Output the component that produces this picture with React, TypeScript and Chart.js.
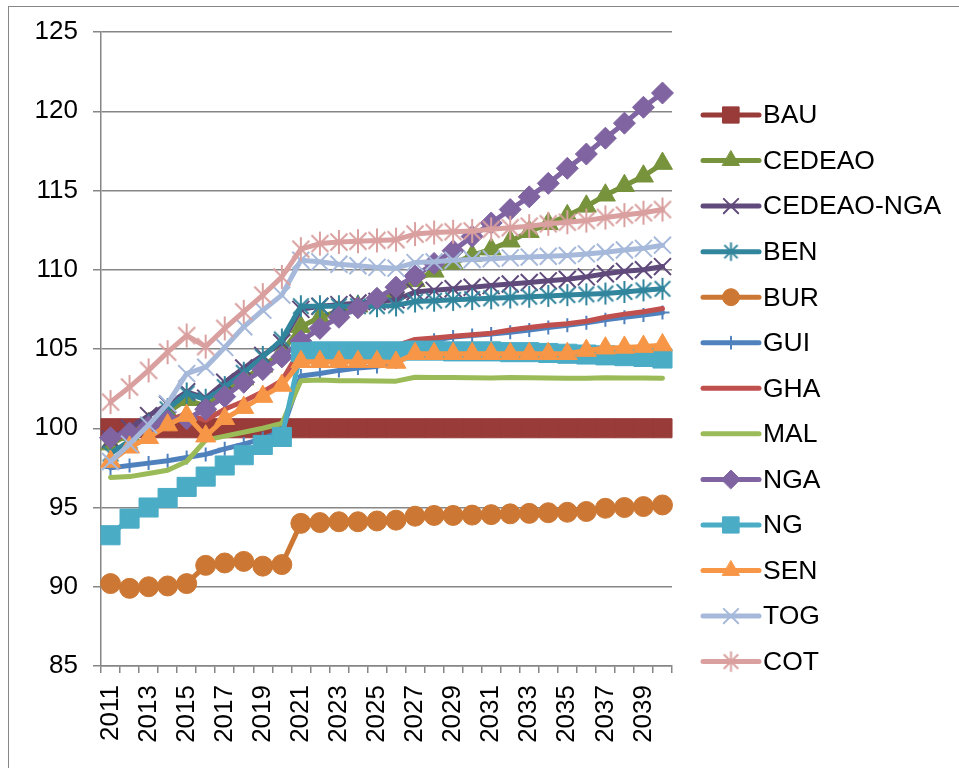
import React, { useEffect, useRef } from "react";
import { Chart, registerables } from "chart.js";
import { drawPoint } from "chart.js/helpers";

Chart.register(...registerables);

const years = [
  "2011", "2012", "2013", "2014", "2015", "2016", "2017", "2018", "2019", "2020",
  "2021", "2022", "2023", "2024", "2025", "2026", "2027", "2028", "2029", "2030",
  "2031", "2032", "2033", "2034", "2035", "2036", "2037", "2038", "2039", "2040",
];

const yTicks = [85, 90, 95, 100, 105, 110, 115, 120, 125];

const BAU = [
  100, 100, 100, 100, 100, 100, 100, 100, 100, 100,
  100, 100, 100, 100, 100, 100, 100, 100, 100, 100,
  100, 100, 100, 100, 100, 100, 100, 100, 100, 100,
];
const CEDEAO = [
  99.0, 99.6, 100.3, 101.0, 101.8, 101.4, 102.3, 103.1, 103.9, 104.8,
  106.4, 107.0, 107.4, 107.7, 108.1, 108.6, 109.3, 109.9, 110.4, 110.9,
  111.3, 111.8, 112.4, 112.9, 113.4, 114.0, 114.7, 115.3, 115.9, 116.7,
];
const CEDEAO_NGA = [
  99.3, 100.0, 100.8, 101.5, 102.3, 101.9, 102.9, 103.8, 104.6, 105.4,
  107.5, 107.7, 107.8, 107.9, 108.0, 108.1, 108.6, 108.7, 108.8, 108.9,
  109.0, 109.1, 109.2, 109.3, 109.4, 109.55, 109.75, 109.9, 110.0, 110.2,
];
const BEN = [
  98.4, 99.2, 100.2, 101.2, 102.2, 101.8, 102.6, 103.5, 104.5, 105.6,
  107.7, 107.7, 107.7, 107.7, 107.7, 107.75, 108.0, 108.05, 108.1, 108.15,
  108.2, 108.25, 108.3, 108.35, 108.4, 108.45, 108.5, 108.6, 108.7, 108.8,
];
const BUR = [
  90.2, 89.9, 90.0, 90.05, 90.2, 91.35, 91.5, 91.6, 91.3, 91.4,
  94.0, 94.05, 94.1, 94.1, 94.15, 94.2, 94.45, 94.5, 94.5, 94.52,
  94.55, 94.6, 94.63, 94.67, 94.7, 94.75, 94.95, 95.0, 95.06, 95.16,
];
const GUI = [
  97.5, 97.65, 97.8, 97.95, 98.15, 98.35, 98.7, 99.0, 99.35, 99.8,
  103.3, 103.45, 103.65, 103.8, 103.9, 104.2, 104.9, 105.55, 105.75, 105.85,
  105.95, 106.05, 106.2, 106.35, 106.5, 106.65, 106.85, 107.0, 107.15, 107.3,
];
const GHA = [
  99.3, 99.6, 100.0, 100.5, 100.9, 100.5, 101.2, 101.7, 102.3, 103.0,
  105.0, 105.05, 105.1, 105.1, 105.15, 105.2, 105.6, 105.7, 105.8, 105.9,
  106.0, 106.2, 106.35, 106.5, 106.6, 106.75, 107.0, 107.2, 107.35, 107.55,
];
const MAL = [
  96.9, 96.95, 97.15, 97.35, 97.9, 99.25, 99.5, 99.75, 100.0, 100.3,
  103.0, 103.05, 103.0, 103.0, 102.98, 102.97, 103.22, 103.2, 103.2, 103.18,
  103.17, 103.2, 103.18, 103.17, 103.15, 103.15, 103.18, 103.17, 103.17, 103.15,
];
const NGA = [
  99.4, 99.7, 100.1, 100.5, 100.6, 101.2, 102.0, 102.9, 103.7, 104.5,
  105.5, 106.3, 107.0, 107.6, 108.2, 108.9, 109.6, 110.4, 111.2, 112.1,
  112.95, 113.8, 114.6, 115.45, 116.4, 117.3, 118.3, 119.25, 120.25, 121.15,
];
const NG = [
  93.25, 94.3, 95.0, 95.6, 96.3, 96.95, 97.65, 98.3, 98.95, 99.45,
  104.8, 104.85, 104.85, 104.85, 104.85, 104.85, 104.9, 104.9, 104.85, 104.85,
  104.85, 104.8, 104.8, 104.75, 104.7, 104.65, 104.6, 104.55, 104.5, 104.4,
];
const SEN = [
  97.9, 98.8, 99.4, 100.2, 100.8, 99.5, 100.6, 101.3, 102.0, 102.7,
  104.2, 104.2, 104.2, 104.2, 104.2, 104.15, 104.7, 104.7, 104.7, 104.7,
  104.7, 104.7, 104.7, 104.7, 104.7, 104.9, 105.05, 105.1, 105.15, 105.25,
];
const TOG = [
  97.9, 99.0, 100.2, 101.55, 103.45, 103.85, 105.1, 106.4, 107.45, 108.4,
  110.6, 110.5, 110.35, 110.25, 110.15, 110.1, 110.45, 110.5, 110.6, 110.65,
  110.7, 110.75, 110.8, 110.85, 110.9, 111.0, 111.1, 111.25, 111.35, 111.55,
];
const COT = [
  101.65, 102.6, 103.65, 104.8, 105.85, 105.15, 106.3, 107.35, 108.4, 109.55,
  111.3, 111.65, 111.75, 111.8, 111.85, 111.9, 112.25, 112.35, 112.4, 112.45,
  112.55, 112.65, 112.75, 112.9, 113.0, 113.1, 113.3, 113.45, 113.6, 113.8,
];

const seriesNames = [
  "BAU", "CEDEAO", "CEDEAO-NGA", "BEN", "BUR", "GUI", "GHA",
  "MAL", "NGA", "NG", "SEN", "TOG", "COT",
];
const seriesValues = [BAU, CEDEAO, CEDEAO_NGA, BEN, BUR, GUI, GHA, MAL, NGA, NG, SEN, TOG, COT];
const seriesColors = [
  "#983B39", "#77933C", "#604A7B", "#31859C", "#CC7733", "#4F81BD", "#C0504D",
  "#9BBB59", "#8064A2", "#4BACC6", "#F79646", "#A6B9DA", "#D9A09F",
];
// marker style per series
const seriesMarkers = [
  "rect", "triangle", "crossRot", "star6", "circle", "cross", "none",
  "none", "rectRot", "rect", "triangle", "crossRot", "star6",
];
const seriesMarkerSizes = [13.5, 11.5, 12, 11, 10, 7, 0, 0, 11, 13.5, 11.5, 12, 12];

const FONT = "'Liberation Sans', Arial, sans-serif";

function makeStar(color: string, r: number, lw: number): HTMLCanvasElement {
  const size = Math.ceil(2 * r + lw + 2);
  const c = document.createElement("canvas");
  c.width = size;
  c.height = size;
  const ctx = c.getContext("2d")!;
  const cx = size / 2;
  const cy = size / 2;
  ctx.strokeStyle = color;
  ctx.lineWidth = lw;
  ctx.beginPath();
  ctx.moveTo(cx, cy - r);
  ctx.lineTo(cx, cy + r);
  const d = r * Math.SQRT1_2;
  ctx.moveTo(cx - d, cy - d);
  ctx.lineTo(cx + d, cy + d);
  ctx.moveTo(cx - d, cy + d);
  ctx.lineTo(cx + d, cy - d);
  ctx.stroke();
  return c;
}

export default function App() {
  const ref = useRef<HTMLCanvasElement | null>(null);

  useEffect(() => {
    if (!ref.current) return;

    const styles = seriesMarkers.map((m, i) => {
      if (m === "star6") return makeStar(seriesColors[i], seriesMarkerSizes[i], 2);
      if (m === "none") return false as any;
      return m as any;
    });
    const legendStyles = seriesMarkers.map((m, i) => {
      if (m === "star6") return makeStar(seriesColors[i], seriesMarkerSizes[i] * 0.85, 2);
      if (m === "none") return false as any;
      return m as any;
    });

    const datasets = seriesNames.map((name, i) => {
      const m = seriesMarkers[i];
      const isLineMarker = m === "cross" || m === "crossRot";
      return {
        label: name,
        data: seriesValues[i],
        borderColor: seriesColors[i],
        backgroundColor: seriesColors[i],
        pointBackgroundColor: seriesColors[i],
        pointBorderColor: seriesColors[i],
        borderWidth: 5,
        borderJoinStyle: "round" as const,
        borderCapStyle: "round" as const,
        tension: 0,
        pointStyle: styles[i],
        pointRadius: m === "none" ? 0 : seriesMarkerSizes[i],
        pointHoverRadius: m === "none" ? 0 : seriesMarkerSizes[i],
        pointBorderWidth: isLineMarker ? 2 : 1,
        order: -i,
        fill: false,
      };
    });

    const legendPlugin = {
      id: "excelLegend",
      afterDraw(chart: any) {
        const ctx = chart.ctx as CanvasRenderingContext2D;
        const x0 = 703;
        const x1 = 759;
        const xm = (x0 + x1) / 2;
        const yStart = 115;
        const step = 45.55;
        ctx.save();
        seriesNames.forEach((name, i) => {
          const y = yStart + i * step;
          const col = seriesColors[i];
          ctx.strokeStyle = col;
          ctx.lineWidth = 5;
          ctx.lineCap = "round";
          ctx.beginPath();
          ctx.moveTo(x0, y);
          ctx.lineTo(x1, y);
          ctx.stroke();
          const m = seriesMarkers[i];
          if (m !== "none") {
            const isLineMarker = m === "cross" || m === "crossRot";
            ctx.fillStyle = col;
            ctx.strokeStyle = col;
            ctx.lineWidth = isLineMarker ? 2 : 1;
            drawPoint(
              ctx,
              {
                pointStyle: legendStyles[i],
                radius: seriesMarkerSizes[i] * 0.85,
                rotation: 0,
                borderWidth: isLineMarker ? 2 : 1,
              } as any,
              xm,
              y
            );
          }
          ctx.fillStyle = "#000000";
          ctx.font = `26.5px ${FONT}`;
          ctx.textAlign = "left";
          ctx.textBaseline = "middle";
          ctx.fillText(name, 763, y + 1);
        });
        ctx.restore();
      },
    };

    const chart = new Chart(ref.current, {
      type: "line",
      data: { labels: years, datasets },
      options: {
        responsive: false,
        animation: false,
        devicePixelRatio: 1,
        layout: { padding: { top: 32, right: 287, bottom: 0, left: 0 } },
        plugins: {
          legend: { display: false },
          tooltip: { enabled: false },
        },
        scales: {
          x: {
            type: "category",
            offset: true,
            grid: {
              offset: true,
              drawOnChartArea: false,
              drawTicks: true,
              tickLength: 7,
              color: "#868686",
              lineWidth: 1.5,
            },
            border: { color: "#868686", width: 1.5 },
            ticks: {
              autoSkip: false,
              minRotation: 90,
              maxRotation: 90,
              padding: 12,
              color: "#000000",
              font: { family: FONT, size: 26 },
              callback: (_v: any, i: number) => (i % 2 === 0 ? years[i] : ""),
            },
            afterFit: (s: any) => {
              s.height = 102;
            },
          },
          y: {
            min: yTicks[0],
            max: yTicks[yTicks.length - 1],
            afterBuildTicks: (s: any) => {
              s.ticks = yTicks.map((v) => ({ value: v }));
            },
            grid: {
              color: "#868686",
              lineWidth: 1.5,
              tickLength: 8,
              drawTicks: true,
            },
            border: { color: "#868686", width: 1.5 },
            ticks: {
              padding: 15,
              color: "#000000",
              font: { family: FONT, size: 26 },
            },
            afterFit: (s: any) => {
              s.width = 101;
            },
          },
        },
      },
      plugins: [legendPlugin],
    });

    return () => chart.destroy();
  }, []);

  return (
    <div style={{ position: "fixed", left: 0, top: 0, width: 959, height: 768, background: "#ffffff", overflow: "hidden" }}>
      <div
        style={{
          position: "absolute",
          left: 8,
          top: 6,
          width: 1000,
          height: 900,
          border: "1px solid #868686",
          boxSizing: "border-box",
        }}
      />
      <canvas ref={ref} width={959} height={768} style={{ position: "absolute", left: 0, top: 0, width: 959, height: 768 }} />
    </div>
  );
}
